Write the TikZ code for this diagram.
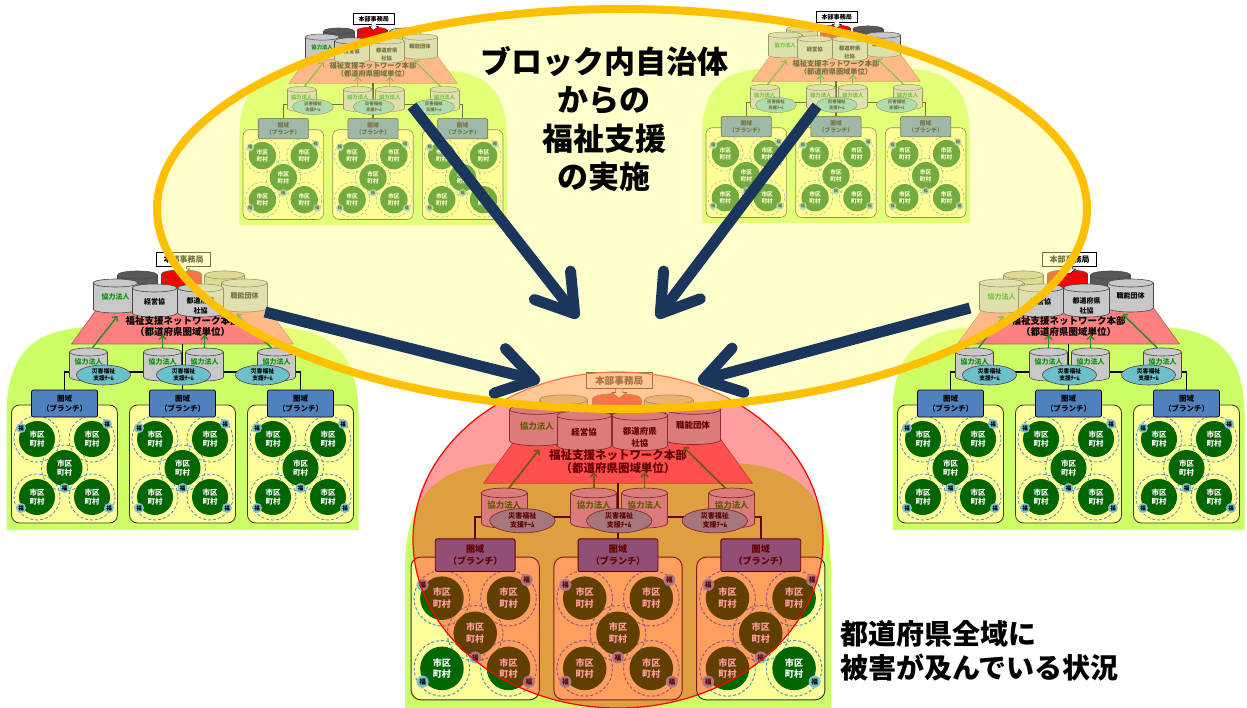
\documentclass[tikz,border=0pt]{standalone}
\usepackage{fontspec}
\setmainfont{Noto Sans CJK JP}
\usetikzlibrary{arrows.meta,shapes.geometric}
\definecolor{basegreen}{RGB}{204,255,102}
\definecolor{trap}{RGB}{255,128,128}
\definecolor{trapline}{RGB}{170,90,90}
\definecolor{cylgrey}{RGB}{200,200,200}
\definecolor{cylline}{RGB}{70,70,70}
\definecolor{darkcyl}{RGB}{89,89,89}
\definecolor{khaki}{RGB}{196,189,151}
\definecolor{cylred}{RGB}{255,0,0}
\definecolor{boxyellow}{RGB}{255,255,153}
\definecolor{boxline}{RGB}{50,50,50}
\definecolor{dgreen}{RGB}{0,102,0}
\definecolor{teamc}{RGB}{110,192,200}
\definecolor{fukuc}{RGB}{125,195,205}
\definecolor{dashblue}{RGB}{80,145,185}
\definecolor{bluebox}{RGB}{79,129,189}
\definecolor{kgreen}{RGB}{0,150,0}
\definecolor{garrowc}{RGB}{34,139,34}
\definecolor{navy}{RGB}{27,54,93}
\definecolor{orangeE}{RGB}{255,192,0}
\definecolor{ellfill}{RGB}{255,255,142}
\tikzset{
  trapst/.style={fill=trap,draw=trapline,line width=0.6pt*\kscale},
  hq/.style={draw=black,fill=white,line width=0.6pt*\kscale,minimum width=54,minimum height=14,inner sep=0pt,font=\fontsize{8}{9}\selectfont\bfseries},
  hqline/.style={draw=black,line width=0.5pt*\kscale},
  cyltxt/.style={inner sep=0pt,align=center,font=\fontsize{7}{9.5}\selectfont\bfseries},
  titletxt/.style={inner sep=0pt,align=center,font=\fontsize{9.5}{11}\selectfont\bfseries},
  conn/.style={draw=black,line width=1.6pt*\kscale},
  garrow/.style={draw=garrowc,line width=1.4pt*\kscale,-{Straight Barb[length=3.5pt,width=7pt]}},
  team/.style={ellipse,fill=teamc,draw=cylline,line width=0.6pt*\kscale,minimum width=54,minimum height=20,inner sep=0pt,align=center,font=\fontsize{5.8}{7.5}\selectfont\bfseries},
  bbox/.style={rectangle,rounded corners=2pt,fill=bluebox,draw=black,line width=0.7pt*\kscale,minimum width=66,minimum height=27,inner sep=0pt,align=center,font=\fontsize{7.5}{10}\selectfont\bfseries},
  dashc/.style={draw=dashblue,line width=0.8pt*\kscale,dash pattern=on 3pt off 2pt},
  town/.style={inner sep=0pt,align=center,text=white,font=\fontsize{7.5}{9.5}\selectfont\bfseries},
  fuku/.style={circle,fill=fukuc,inner sep=0pt,minimum size=10,font=\fontsize{5.5}{6}\selectfont\bfseries},
  navyarrow/.style={draw=navy,line width=11pt,-{Straight Barb[length=36pt,width=46pt,round]}},
  bigtxt/.style={inner sep=0pt,align=center,font=\fontsize{31}{38.5}\selectfont\bfseries},
  sidetxt/.style={inner sep=0pt,align=left,font=\fontsize{28}{34}\selectfont\bfseries}
}
\newcommand\cyl[5]{%
  \filldraw[fill=#5,draw=cylline,line width=0.6pt*\kscale] (#1,{#2+#4}) ellipse [x radius={#3/2}, y radius=4];
  \fill[#5] ({#1-#3/2},#2) rectangle ({#1+#3/2},{#2+#4});
  \draw[cylline,line width=0.6pt*\kscale] ({#1-#3/2},#2) -- ({#1-#3/2},{#2+#4}) ({#1+#3/2},#2) -- ({#1+#3/2},{#2+#4});
  \filldraw[fill=#5,draw=cylline,line width=0.6pt*\kscale] (#1,#2) ellipse [x radius={#3/2}, y radius=4];
}
\newcommand\ibox[1]{%
  \filldraw[fill=boxyellow,draw=boxline,line width=0.8pt*\kscale,rounded corners=8pt*\kscale] ({#1-53},155) rectangle ({#1+53},273);
  \foreach \dx/\dy in {-27.5/189,27.5/189,0/218,-27.5/247,27.5/247}{%
    \draw[dashc] ({#1+\dx},\dy) circle [radius=23];}
  \foreach \dx/\dy in {-27.5/189,27.5/189,0/218,-27.5/247,27.5/247}{%
    \fill[dgreen] ({#1+\dx},\dy) circle [radius=18];
    \node[town] at ({#1+\dx},\dy) {市区\\町村};}
  \foreach \dx/\dy in {-43.5/178,42.5/174,0/238,-43.5/258,44.5/258}{%
    \node[fuku] at ({#1+\dx},\dy) {福};}
}
\newcommand\cluster[5]{%
\begin{scope}[shift={(#1,#2)},scale=#3,transform shape]
\def\kscale{#3}
\fill[basegreen] (-176,280) -- (-176,165) .. controls (-176,95) and (-140,77) .. (-85,77) -- (85,77) .. controls (140,77) and (176,95) .. (176,165) -- (176,280) -- cycle;
\filldraw[trapst] (-85,58) -- (85,58) -- (111,94) -- (-111,94) -- cycle;
\cyl{-45}{25}{40}{20}{#4}
\cyl{42}{25}{40}{20}{#5}
\cyl{-1}{24}{40}{20}{cylred}
\node[hq] (hqbox) at (1,9) {本部事務局};
\draw[hqline,fill=white] (-2,16) -- (-2,19) -- (-5,19) -- (1,24) -- (7,19) -- (4,19) -- (4,16);
\cyl{-67}{33}{45}{26}{cylgrey}
\node[cyltxt,text=kgreen] (k0) at (-67,47) {協力法人};
\cyl{62}{33}{46}{25}{cylgrey}
\node[cyltxt] (sn) at (62,46) {職能団体};
\cyl{-28}{38}{45}{25}{cylgrey}
\node[cyltxt] (kei) at (-28,52) {経営協};
\cyl{18}{38}{46}{25}{cylgrey}
\node[cyltxt] (sha) at (18,56) {都道府県\\社協};
\node[titletxt] (ttl) at (0,76) {福祉支援ネットワーク本部\\（都道府県圏域単位）};
\draw[conn] (0,94) -- (0,140);
\draw[conn] (-118,140) -- (-118,122) -- (118,122) -- (118,140);
\draw[garrow] (-94,103) -- (-65,66);
\draw[garrow] (-20,101) -- (-20,85);
\draw[garrow] (22,101) -- (22,85);
\draw[garrow] (94,103) -- (54,64);
\foreach \cx in {-94,-20,22,94}{%
  \cyl{\cx}{102}{38}{25}{cylgrey}
  \node[cyltxt,text=kgreen] at (\cx,112) {協力法人};}
\node[team] (tm1) at (-79,125) {災害福祉\\支援ﾁｰﾑ};
\node[team] (tm2) at (1,125) {災害福祉\\支援ﾁｰﾑ};
\node[team] (tm3) at (80,125) {災害福祉\\支援ﾁｰﾑ};
\ibox{-118}
\ibox{0}
\ibox{118}
\node[bbox] (br1) at (-118,153.5) {圏域\\（ブランチ）};
\node[bbox] (br2) at (0,153.5) {圏域\\（ブランチ）};
\node[bbox] (br3) at (118,153.5) {圏域\\（ブランチ）};
\end{scope}}
\begin{document}
\begin{tikzpicture}[x=1pt,y=-1pt]
\useasboundingbox (0,0) rectangle (1247,708);
\fill[white] (0,0) rectangle (1247,708);
\cluster{373}{12}{0.76}{darkcyl}{khaki}
\cluster{836}{10}{0.76}{khaki}{darkcyl}
\cluster{182.5}{250}{1}{darkcyl}{khaki}
\cluster{1068.5}{250}{1}{khaki}{darkcyl}
\cluster{618}{369.5}{1.21}{khaki}{khaki}
\filldraw[fill=red,fill opacity=0.38,draw=red,line width=1.2pt] (618,540) ellipse [x radius=205,y radius=168];
\fill[ellfill,fill opacity=0.45] (622,209) ellipse [x radius=465, y radius=200];
\draw[orangeE,line width=8pt] (622,209) ellipse [x radius=465, y radius=200];
\coordinate (a1s) at (412,106); \coordinate (a1e) at (578,318);
\coordinate (a2s) at (817,106); \coordinate (a2e) at (657,318);
\coordinate (a3s) at (265,312); \coordinate (a3e) at (540,381);
\coordinate (a4s) at (970,308); \coordinate (a4e) at (698,381);
\draw[navyarrow] (a1s) -- (a1e);
\draw[navyarrow] (a2s) -- (a2e);
\draw[navyarrow] (a3s) -- (a3e);
\draw[navyarrow] (a4s) -- (a4e);
\node[bigtxt] (head) at (604,119) {ブロック内自治体\\からの\\福祉支援\\の実施};
\node[sidetxt,anchor=west] (side) at (840,651) {都道府県全域に\\被害が及んでいる状況};
\end{tikzpicture}
\end{document}
